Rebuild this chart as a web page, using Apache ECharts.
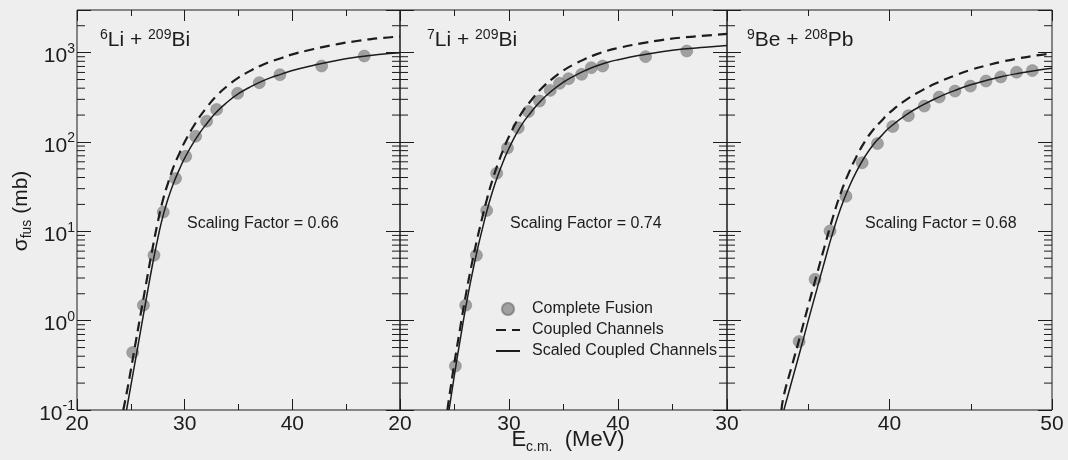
<!DOCTYPE html>
<html>
<head>
<meta charset="utf-8">
<script src="https://cdn.jsdelivr.net/npm/echarts@6/dist/echarts.min.js"></script>
<style>
html, body { margin: 0; padding: 0; background: #eeeeee; }
#chart { width: 1068px; height: 460px; }
</style>
</head>
<body>
<div id="chart"></div>
<script>
// complete fusion data (E_cm in MeV, sigma in mb)
const energyLi6 = [25.17, 26.17, 27.15, 28.01, 29.15, 30.1, 31.02, 32.04, 32.97, 34.92, 36.93, 38.85, 42.72, 46.68]
const fusionLi6 = [0.44, 1.49, 5.4, 16.4, 39, 69, 116, 171, 231, 350, 461, 566, 708, 916]
const energyLi7 = [25.08, 26.03, 27.01, 27.95, 28.87, 29.86, 30.85, 31.79, 32.8, 33.79, 34.64, 35.47, 36.66, 37.55, 38.59, 42.53, 46.31]
const fusionLi7 = [0.31, 1.49, 5.4, 17.1, 44.6, 85.7, 144, 219, 287, 378, 453, 511, 571, 679, 708, 902, 1042]
const energyBe9 = [34.44, 35.42, 36.34, 37.32, 38.32, 39.26, 40.2, 41.16, 42.14, 43.06, 44.03, 44.98, 45.94, 46.85, 47.82, 48.79]
const fusionBe9 = [0.585, 2.9, 10.1, 24.7, 58.5, 96, 149, 197, 252, 318, 371, 422, 481, 535, 604, 629]

// coupled channels (dashed)
const ccEnergyLi6 = [24.3, 24.6, 25, 25.5, 26, 26.5, 27, 27.5, 28, 28.5, 29, 29.5, 30, 31, 32, 33, 34, 35, 36, 37, 38, 39, 40, 42, 44, 46, 48, 50]
const ccLi6 = [0.1, 0.152, 0.28, 0.62, 1.35, 2.95, 6.3, 12.6, 22.9, 36, 54, 74, 100, 162, 239, 332, 427, 526, 617, 709, 795, 871, 956, 1097, 1232, 1350, 1447, 1515]
const ccEnergyLi7 = [24.35, 24.5, 25, 25.5, 26, 26.5, 27, 27.5, 28, 28.5, 29, 29.5, 30, 31, 32, 33, 34, 35, 36, 37, 38, 39, 40, 42, 44, 46, 48, 50]
const ccLi7 = [0.1, 0.135, 0.34, 0.8, 1.82, 3.81, 7.4, 13.5, 23.5, 38.1, 57.7, 83.4, 115, 196, 289, 399, 513, 632, 743, 852, 956, 1048, 1124, 1260, 1382, 1481, 1551, 1624]
const ccEnergyBe9 = [33.35, 33.5, 34, 34.5, 35, 35.5, 36, 36.5, 37, 37.5, 38, 38.5, 39, 39.5, 40, 41, 42, 43, 44, 45, 46, 47, 48, 49, 50]
const ccBe9 = [0.1, 0.147, 0.315, 0.672, 1.47, 3.15, 6.72, 14.0, 26.8, 45.4, 70.4, 102, 137, 172, 213, 294, 378, 465, 553, 642, 720, 798, 866, 928, 980]

// scaled coupled channels (solid)
const sccEnergyLi6 = [24.6, 25, 25.5, 26, 26.5, 27, 27.5, 28, 28.5, 29, 29.5, 30, 31, 32, 33, 34, 35, 36, 37, 38, 39, 40, 42, 44, 46, 48, 50]
const sccLi6 = [0.1, 0.186, 0.407, 0.891, 1.95, 4.17, 8.3, 15.1, 24, 35.5, 49, 66, 107, 158, 219, 282, 347, 407, 468, 525, 575, 631, 724, 813, 891, 955, 1000]
const sccEnergyLi7 = [24.5, 25, 25.5, 26, 26.5, 27, 27.5, 28, 28.5, 29, 29.5, 30, 31, 32, 33, 34, 35, 36, 37, 38, 39, 40, 42, 44, 46, 48, 50]
const sccLi7 = [0.1, 0.251, 0.589, 1.35, 2.82, 5.5, 10, 17.4, 28.2, 42.7, 61.7, 85.1, 145, 214, 295, 380, 468, 550, 631, 708, 776, 832, 933, 1023, 1096, 1148, 1202]
const sccEnergyBe9 = [33.5, 34, 34.5, 35, 35.5, 36, 36.5, 37, 37.5, 38, 38.5, 39, 39.5, 40, 41, 42, 43, 44, 45, 46, 47, 48, 49, 50]
const sccBe9 = [0.1, 0.214, 0.457, 1.0, 2.14, 4.57, 9.55, 18.2, 30.9, 47.9, 69.2, 93.3, 117, 145, 200, 257, 316, 376, 437, 490, 543, 589, 631, 667]

const scalingFactors = ['0.66', '0.74', '0.68']
const seriesNames = ['Complete Fusion', 'Coupled Channels', 'Scaled Coupled Channels']
const minorMantissa = [2, 3, 4, 5, 6, 7, 8, 9]
const decades = [0.1, 1, 10, 100, 1000]

const FONT = '"Liberation Sans", Arial, Helvetica, sans-serif'
const INK = '#1c1c1c'

const zip = (xs, ys) => xs.map((x, i) => [x, ys[i]])
const minorTickValues = []
decades.forEach(d => minorMantissa.forEach(m => { if (d * m < 3000) minorTickValues.push(d * m) }))

const panels = [
  { left: 77, width: 323, xMin: 20, xMax: 50, lastLabel: false, fus: zip(energyLi6, fusionLi6), cc: zip(ccEnergyLi6, ccLi6), scc: zip(sccEnergyLi6, sccLi6), sup1: '6', a: 'Li + ', sup2: '209', b: 'Bi', titleX: 100, factorX: 187 },
  { left: 400, width: 327, xMin: 20, xMax: 50, lastLabel: false, fus: zip(energyLi7, fusionLi7), cc: zip(ccEnergyLi7, ccLi7), scc: zip(sccEnergyLi7, sccLi7), sup1: '7', a: 'Li + ', sup2: '209', b: 'Bi', titleX: 427, factorX: 510 },
  { left: 727, width: 325, xMin: 30, xMax: 50, lastLabel: true, fus: zip(energyBe9, fusionBe9), cc: zip(ccEnergyBe9, ccBe9), scc: zip(sccEnergyBe9, sccBe9), sup1: '9', a: 'Be + ', sup2: '208', b: 'Pb', titleX: 747, factorX: 865 }
]

function powerLabel(value) {
  const e = Math.round(Math.log10(value))
  if (Math.abs(Math.log10(value) - e) > 1e-6) return ''
  return '{b|10}{s|' + e + '}'
}

const grids = []
const xAxes = []
const yAxes = []
const series = []
const graphics = []

panels.forEach((p, i) => {
  grids.push({ left: p.left, width: p.width, top: 10, height: 400, show: true, borderColor: INK, borderWidth: 1, backgroundColor: 'transparent' })
  ;['bottom', 'top'].forEach(pos => {
    xAxes.push({
      type: 'value', gridIndex: i, position: pos, min: p.xMin, max: p.xMax, interval: 10,
      axisLine: { show: false }, splitLine: { show: false },
      axisTick: { inside: true, length: 11, lineStyle: { color: INK, width: 1 } },
      minorTick: { show: true, splitNumber: 2, length: 6, lineStyle: { color: INK, width: 1 } },
      axisLabel: { show: pos === 'bottom', fontSize: 21, fontFamily: FONT, color: INK, margin: 4, showMaxLabel: p.lastLabel, showMinLabel: true }
    })
  })
  ;['left', 'right'].forEach(pos => {
    yAxes.push({
      type: 'log', logBase: 10, gridIndex: i, position: pos, min: 0.1, max: 3000,
      axisLine: { show: false }, splitLine: { show: false },
      axisTick: { inside: true, length: 14, lineStyle: { color: INK, width: 1 } },
      axisLabel: {
        show: i === 0 && pos === 'left', margin: 2, formatter: powerLabel,
        rich: {
          b: { fontSize: 21, lineHeight: 21, fontFamily: FONT, color: INK, padding: [8, 0, 0, 0] },
          s: { fontSize: 14, lineHeight: 14, fontFamily: FONT, color: INK, verticalAlign: 'top' }
        }
      }
    })
  })

  // log minor ticks on both sides
  series.push({
    type: 'custom', xAxisIndex: i * 2, yAxisIndex: i * 2, silent: true, clip: false, z: 1,
    data: minorTickValues.map(v => [p.xMin, v]),
    renderItem: function (params, api) {
      const cs = params.coordSys
      const y = api.coord([p.xMin, api.value(1)])[1]
      const st = { stroke: INK, lineWidth: 1 }
      return {
        type: 'group', children: [
          { type: 'line', shape: { x1: cs.x, y1: y, x2: cs.x + 8, y2: y }, style: st },
          { type: 'line', shape: { x1: cs.x + cs.width - 8, y1: y, x2: cs.x + cs.width, y2: y }, style: st }
        ]
      }
    }
  })
  series.push({
    name: seriesNames[0], type: 'scatter', xAxisIndex: i * 2, yAxisIndex: i * 2, z: 2,
    symbol: 'circle', symbolSize: 12, data: p.fus,
    itemStyle: { color: '#8c8c8c', borderColor: '#7c7c7c', borderWidth: 0.6 }
  })
  series.push({
    name: seriesNames[1], type: 'line', xAxisIndex: i * 2, yAxisIndex: i * 2, z: 3,
    symbol: 'none', showSymbol: false, smooth: 0.5, data: p.cc,
    itemStyle: { color: INK }, lineStyle: { color: INK, width: 2.2, type: [10, 6] }
  })
  series.push({
    name: seriesNames[2], type: 'line', xAxisIndex: i * 2, yAxisIndex: i * 2, z: 4,
    symbol: 'none', showSymbol: false, smooth: 0.5, data: p.scc,
    itemStyle: { color: INK }, lineStyle: { color: INK, width: 1.5 }
  })

  graphics.push({
    type: 'text', x: p.titleX, y: 28, silent: true,
    style: {
      text: '{s|' + p.sup1 + '}{b|' + p.a + '}{s|' + p.sup2 + '}{b|' + p.b + '}',
      align: 'left', verticalAlign: 'top',
      rich: {
        b: { fontSize: 21, lineHeight: 21, fontFamily: FONT, fill: INK, padding: [3, 0, 0, 0] },
        s: { fontSize: 14, lineHeight: 14, fontFamily: FONT, fill: INK, verticalAlign: 'top' }
      }
    }
  })
  graphics.push({
    type: 'text', x: p.factorX, y: 224, silent: true,
    style: { text: 'Scaling Factor = ' + scalingFactors[i], fontSize: 16, fontFamily: FONT, fill: INK, align: 'left', verticalAlign: 'middle' }
  })
})

// axis titles
graphics.push({
  type: 'text', x: 24, y: 211, rotation: Math.PI / 2, silent: true,
  style: {
    text: '{b|σ}{sub|fus}{b| (mb)}', align: 'center', verticalAlign: 'middle',
    rich: {
      b: { fontSize: 21, lineHeight: 21, fontFamily: FONT, fill: INK, padding: [0, 0, 6, 0] },
      sub: { fontSize: 14, lineHeight: 14, fontFamily: FONT, fill: INK, verticalAlign: 'bottom' }
    }
  }
})
graphics.push({
  type: 'text', x: 568, y: 443, silent: true,
  style: {
    text: '{b|E}{sub|c.m.}{b|  (MeV)}', align: 'center', verticalAlign: 'middle',
    rich: {
      b: { fontSize: 22, lineHeight: 22, fontFamily: FONT, fill: INK, padding: [0, 0, 6, 0] },
      sub: { fontSize: 14, lineHeight: 14, fontFamily: FONT, fill: INK, verticalAlign: 'bottom' }
    }
  }
})

const chart = echarts.init(document.getElementById('chart'), null, { renderer: 'canvas' })
chart.setOption({
  backgroundColor: '#eeeeee',
  animation: false,
  grid: grids,
  xAxis: xAxes,
  yAxis: yAxes,
  legend: {
    data: [
      { name: seriesNames[0] },
      { name: seriesNames[1], itemStyle: { opacity: 0 } },
      { name: seriesNames[2], itemStyle: { opacity: 0 } }
    ],
    orient: 'vertical', left: 490, top: 296,
    itemWidth: 24, itemHeight: 12, itemGap: 5, selectedMode: false,
    textStyle: { fontSize: 16, fontFamily: FONT, color: INK, padding: [0, 0, 0, 7] }
  },
  graphic: graphics,
  series: series
})
</script>
</body>
</html>
